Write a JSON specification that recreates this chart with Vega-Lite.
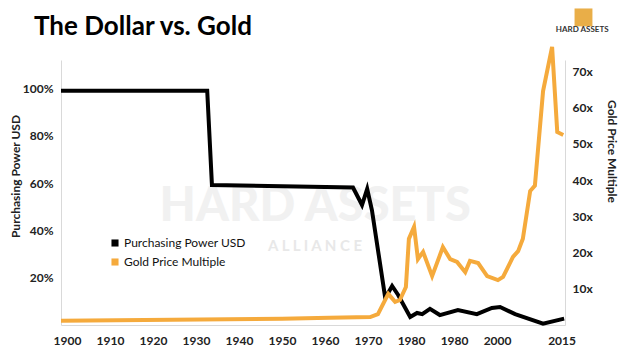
{
  "$schema": "https://vega.github.io/schema/vega-lite/v6.json",
  "width": 504,
  "height": 265,
  "autosize": "none",
  "padding": {"left": 61, "top": 60, "right": 59, "bottom": 27},
  "background": "white",
  "config": {"view": {"stroke": null}, "font": "Lato"},
  "title": {
    "text": "The Dollar vs. Gold",
    "anchor": "start",
    "frame": "group",
    "fontSize": 26,
    "font": "Lato",
    "fontWeight": "bold",
    "color": "#000000",
    "dx": -27,
    "dy": 32,
    "offset": 0
  },
  "datasets": {
    "pp": [
      {"year": 1898.6, "value": 0.99, "series": "Purchasing Power USD"},
      {"year": 1932.6, "value": 0.99, "series": "Purchasing Power USD"},
      {"year": 1933.7, "value": 0.592, "series": "Purchasing Power USD"},
      {"year": 1966.5, "value": 0.581, "series": "Purchasing Power USD"},
      {"year": 1968.6, "value": 0.507, "series": "Purchasing Power USD"},
      {"year": 1969.8, "value": 0.575, "series": "Purchasing Power USD"},
      {"year": 1970.9, "value": 0.486, "series": "Purchasing Power USD"},
      {"year": 1974.0, "value": 0.114, "series": "Purchasing Power USD"},
      {"year": 1975.6, "value": 0.165, "series": "Purchasing Power USD"},
      {"year": 1977.0, "value": 0.127, "series": "Purchasing Power USD"},
      {"year": 1979.8, "value": 0.034, "series": "Purchasing Power USD"},
      {"year": 1981.4, "value": 0.051, "series": "Purchasing Power USD"},
      {"year": 1982.6, "value": 0.046, "series": "Purchasing Power USD"},
      {"year": 1984.4, "value": 0.068, "series": "Purchasing Power USD"},
      {"year": 1986.7, "value": 0.042, "series": "Purchasing Power USD"},
      {"year": 1990.9, "value": 0.063, "series": "Purchasing Power USD"},
      {"year": 1995.3, "value": 0.046, "series": "Purchasing Power USD"},
      {"year": 1998.8, "value": 0.072, "series": "Purchasing Power USD"},
      {"year": 2000.7, "value": 0.076, "series": "Purchasing Power USD"},
      {"year": 2004.2, "value": 0.046, "series": "Purchasing Power USD"},
      {"year": 2010.7, "value": 0.006, "series": "Purchasing Power USD"},
      {"year": 2015.6, "value": 0.027, "series": "Purchasing Power USD"}
    ],
    "gold": [
      {"year": 1898.6, "value": 1.2, "series": "Gold Price Multiple"},
      {"year": 1950.0, "value": 1.7, "series": "Gold Price Multiple"},
      {"year": 1961.0, "value": 2.0, "series": "Gold Price Multiple"},
      {"year": 1970.5, "value": 2.2, "series": "Gold Price Multiple"},
      {"year": 1972.3, "value": 3.0, "series": "Gold Price Multiple"},
      {"year": 1974.7, "value": 8.6, "series": "Gold Price Multiple"},
      {"year": 1976.3, "value": 6.4, "series": "Gold Price Multiple"},
      {"year": 1977.4, "value": 6.9, "series": "Gold Price Multiple"},
      {"year": 1978.8, "value": 10.5, "series": "Gold Price Multiple"},
      {"year": 1979.5, "value": 23.8, "series": "Gold Price Multiple"},
      {"year": 1980.7, "value": 27.1, "series": "Gold Price Multiple"},
      {"year": 1981.6, "value": 18.2, "series": "Gold Price Multiple"},
      {"year": 1982.8, "value": 20.2, "series": "Gold Price Multiple"},
      {"year": 1984.9, "value": 13.5, "series": "Gold Price Multiple"},
      {"year": 1987.4, "value": 21.5, "series": "Gold Price Multiple"},
      {"year": 1989.1, "value": 18.2, "series": "Gold Price Multiple"},
      {"year": 1990.7, "value": 17.4, "series": "Gold Price Multiple"},
      {"year": 1992.6, "value": 14.6, "series": "Gold Price Multiple"},
      {"year": 1993.7, "value": 17.7, "series": "Gold Price Multiple"},
      {"year": 1995.6, "value": 17.1, "series": "Gold Price Multiple"},
      {"year": 1997.7, "value": 13.5, "series": "Gold Price Multiple"},
      {"year": 2000.2, "value": 12.4, "series": "Gold Price Multiple"},
      {"year": 2001.4, "value": 13.3, "series": "Gold Price Multiple"},
      {"year": 2003.7, "value": 18.8, "series": "Gold Price Multiple"},
      {"year": 2004.9, "value": 20.4, "series": "Gold Price Multiple"},
      {"year": 2006.0, "value": 23.8, "series": "Gold Price Multiple"},
      {"year": 2007.7, "value": 37.0, "series": "Gold Price Multiple"},
      {"year": 2008.8, "value": 38.5, "series": "Gold Price Multiple"},
      {"year": 2010.7, "value": 64.6, "series": "Gold Price Multiple"},
      {"year": 2012.8, "value": 76.8, "series": "Gold Price Multiple"},
      {"year": 2014.0, "value": 53.3, "series": "Gold Price Multiple"},
      {"year": 2015.4, "value": 52.5, "series": "Gold Price Multiple"}
    ]
  },
  "layer": [
    {
      "layer": [
        {
          "data": {"values": [{}]},
          "mark": {"type": "text", "font": "Lato", "fontWeight": 900, "fontSize": 47, "color": "#f1f1f1", "baseline": "middle", "align": "center"},
          "encoding": {
            "x": {"datum": 1957.7, "type": "quantitative"},
            "y": {"datum": 0.5, "type": "quantitative"},
            "text": {"value": "HARD ASSETS"}
          }
        },
        {
          "data": {"values": [{}]},
          "mark": {"type": "text", "font": "Lato", "fontWeight": "bold", "fontSize": 15, "color": "#e8e8e8", "baseline": "middle", "align": "center"},
          "encoding": {
            "x": {"datum": 1957.7, "type": "quantitative"},
            "y": {"datum": 0.335, "type": "quantitative"},
            "text": {"value": "A L L I A N C E"}
          }
        },
        {
          "data": {"values": [{}]},
          "mark": {"type": "point", "shape": "square", "filled": true, "size": 320, "color": "#E9AE48", "opacity": 1},
          "encoding": {
            "x": {"datum": 2020.1, "type": "quantitative"},
            "y": {"datum": 1.3, "type": "quantitative"}
          }
        },
        {
          "data": {"values": [{}]},
          "mark": {"type": "text", "font": "Lato", "fontWeight": "bold", "fontSize": 8, "color": "#333333", "baseline": "middle", "align": "center"},
          "encoding": {
            "x": {"datum": 2019.8, "type": "quantitative"},
            "y": {"datum": 1.245, "type": "quantitative"},
            "text": {"value": "HARD ASSETS"}
          }
        },
        {
          "data": {"name": "pp"},
          "mark": {"type": "line", "strokeWidth": 4, "strokeJoin": "miter"},
          "encoding": {
            "x": {
              "field": "year",
              "type": "quantitative",
              "scale": {"domain": [1898.6, 2015.8], "nice": false, "zero": false},
              "axis": {
                "title": null,
                "values": [1900, 1910, 1920, 1930, 1940, 1950, 1960, 1970, 1980, 1990, 2000, 2015],
                "labelExpr": "datum.value == 1990 ? '1980' : datum.value",
                "format": "d",
                "ticks": false,
                "grid": false,
                "domainColor": "#d9d9d9",
                "labelFont": "Lato",
                "labelFontWeight": "bold",
                "labelFontSize": 12,
                "labelColor": "#222222",
                "labelPadding": 10,
                "labelFlush": false,
                "labelOverlap": false
              }
            },
            "y": {
              "field": "value",
              "type": "quantitative",
              "scale": {"domain": [0, 1.12], "nice": false},
              "axis": {
                "title": "Purchasing  Power USD",
                "titleFont": "Lato",
                "titleFontWeight": "bold",
                "titleFontSize": 12,
                "titleColor": "#222222",
                "titleX": -46,
                "titleY": 116,
                "titleBaseline": "middle",
                "values": [0.2, 0.4, 0.6, 0.8, 1.0],
                "format": ".0%",
                "ticks": false,
                "grid": false,
                "domainColor": "#d9d9d9",
                "labelFont": "Lato",
                "labelFontWeight": "bold",
                "labelFontSize": 12,
                "labelColor": "#222222",
                "labelPadding": 8
              }
            },
            "color": {
              "field": "series",
              "type": "nominal",
              "scale": {"domain": ["Purchasing Power USD", "Gold Price Multiple"], "range": ["#000000", "#F5AA3C"]},
              "legend": {
                "title": null,
                "orient": "none",
                "legendX": 48,
                "legendY": 177,
                "symbolType": "square",
                "symbolSize": 50,
                "symbolStrokeWidth": 0,
                "labelFont": "Lato",
                "labelFontSize": 12,
                "labelColor": "#111111",
                "labelOffset": 3,
                "rowPadding": 7,
                "encode": {"symbols": {"update": {"fill": {"scale": "color", "field": "value"}, "strokeWidth": {"value": 0}}}}
              }
            }
          }
        }
      ]
    },
    {
      "data": {"name": "gold"},
      "mark": {"type": "line", "strokeWidth": 4, "strokeJoin": "miter"},
      "encoding": {
        "x": {"field": "year", "type": "quantitative"},
        "y": {
          "field": "value",
          "type": "quantitative",
          "scale": {"domain": [0, 73.2], "nice": false},
          "axis": {
            "orient": "right",
            "title": "Gold Price Multiple",
            "titleAngle": 90,
            "titleBaseline": "middle",
            "titleFont": "Lato",
            "titleFontWeight": "bold",
            "titleFontSize": 12,
            "titleColor": "#222222",
            "titleX": 46,
            "titleY": 91,
            "values": [10, 20, 30, 40, 50, 60, 70],
            "labelExpr": "datum.value + 'x'",
            "ticks": false,
            "grid": false,
            "domainColor": "#d9d9d9",
            "labelFont": "Lato",
            "labelFontWeight": "bold",
            "labelFontSize": 12,
            "labelColor": "#222222",
            "labelPadding": 7
          }
        },
        "color": {"field": "series", "type": "nominal"}
      }
    }
  ],
  "resolve": {"scale": {"y": "independent"}}
}
